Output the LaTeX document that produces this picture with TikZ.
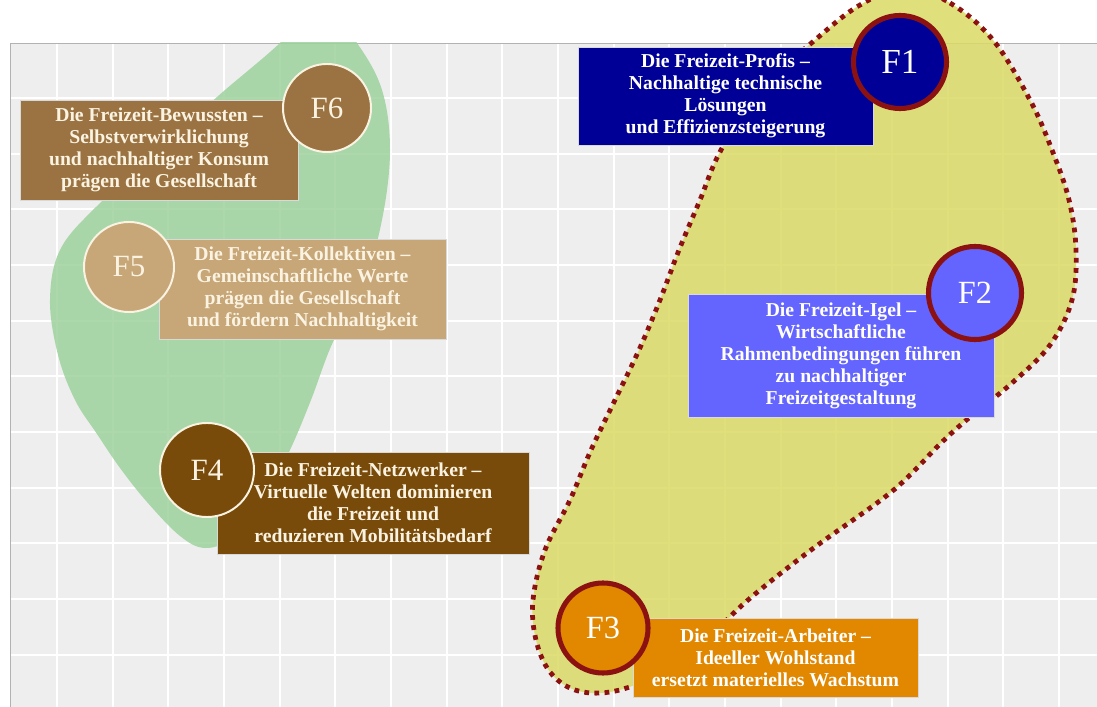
\documentclass[tikz,border=0pt]{standalone}
\usepackage{fontspec}
\setmainfont{Liberation Serif}
\usepackage{tikz}
\usetikzlibrary{positioning, calc}
\usetikzlibrary{shapes.misc}

\definecolor{panelgray}{RGB}{238,238,238}
\definecolor{blobgreen}{RGB}{158,210,158}
\definecolor{blobyellow}{RGB}{218,218,102}
\definecolor{dotred}{RGB}{140,18,18}
\definecolor{cream}{RGB}{250,243,226}
\definecolor{fsechs}{RGB}{155,115,66}
\definecolor{ffuenf}{RGB}{199,166,120}
\definecolor{fvier}{RGB}{121,75,10}
\definecolor{feins}{RGB}{0,0,150}
\definecolor{fzwei}{RGB}{100,100,255}
\definecolor{fdrei}{RGB}{225,135,0}

\begin{document}
\begin{tikzpicture}[x=0.025cm, y=-0.025cm,
    gridline/.style={white, line width=1.4pt},
    textbox/.style={rectangle, draw=white!85!black, line width=0.5pt, align=center, inner sep=0pt,
        font=\bfseries\fontsize{14}{15.6}\selectfont},
    brownring/.style={circle, draw=cream, line width=1.4pt, text=cream, inner sep=0pt,
        font=\fontsize{22}{24}\selectfont},
    redring/.style={circle, draw=dotred, line width=3.6pt, text=white, inner sep=0pt,
        font=\fontsize{23}{25}\selectfont}]
    \useasboundingbox (0,0) rectangle (1097,707);
    \clip (0,0) rectangle (1097,707);
    \fill[white] (0,0) rectangle (1097,707);
    \fill[panelgray] (10,43) rectangle (1097,707);
    \foreach \i in {0,...,18}
        \draw[gridline] ({57+55.67*\i},43) -- ({57+55.67*\i},707);
    \foreach \j in {0,...,10}
        \draw[gridline] (10,{98+55.67*\j}) -- (1097,{98+55.67*\j});
    \draw[black!30, line width=0.6pt] (1097,43) -- (10,43) -- (10,707);

    \begin{scope}
        \clip (10,43) rectangle (1097,707);
        \fill[blobgreen, fill opacity=0.85] plot[smooth cycle, tension=0.6] coordinates {
            (320,0) (357,43) (382,90) (390,150) (382,220) (362,290) (333,342) (311,400)
            (290,450) (262,505) (232,538) (205,548) (180,536) (147,502) (120,468) (97,434)
            (75,400) (58,355) (50,300) (60,250) (96,207) (160,150) (217,97) (280,43)};
    \end{scope}
    \draw[dotred, fill=blobyellow, fill opacity=0.85, line width=3.4pt, dash pattern=on 3.4pt off 3.8pt]
        plot[smooth cycle, tension=0.6] coordinates {
            (905,-12) (950,3) (993,40) (1030,100) (1052,150) (1069,200) (1076,250) (1072,300)
            (1050,345) (1012,383) (970,417) (941,443) (910,475) (881,500) (811,550) (748,600)
            (700,645) (650,678) (610,692) (575,690) (550,672) (536,640) (533,600) (545,550)
            (570,500) (591,450) (615,400) (639,350) (660,300) (679,250) (700,200) (721,150)
            (760,90) (815,40) (860,5)};

    \node[textbox, fill=fsechs, text=cream, minimum width=6.95cm, minimum height=2.5cm] (f6box) at (159,150)
        {Die Freizeit-Bewussten --\\Selbstverwirklichung\\und nachhaltiger Konsum\\prägen die Gesellschaft};
    \node[brownring, fill=fsechs, minimum size=2.2cm] (f6) at (327,108) {F6};

    \node[textbox, fill=ffuenf, text=cream, minimum width=7.175cm, minimum height=2.5cm] (f5box) at (302.5,289)
        {Die Freizeit-Kollektiven --\\Gemeinschaftliche Werte\\prägen die Gesellschaft\\und fördern Nachhaltigkeit};
    \node[brownring, fill=ffuenf, minimum size=2.25cm] (f5) at (129,267) {F5};

    \node[textbox, fill=fvier, text=cream, minimum width=7.8cm, minimum height=2.55cm] (f4box) at (373,503)
        {Die Freizeit-Netzwerker --\\Virtuelle Welten dominieren\\die Freizeit und\\reduzieren Mobilitätsbedarf};
    \node[brownring, fill=fvier, minimum size=2.35cm] (f4) at (207,470) {F4};

    \node[textbox, fill=feins, text=white, minimum width=7.375cm, minimum height=2.45cm] (f1box) at (725.5,96)
        {Die Freizeit-Profis --\\Nachhaltige technische\\Lösungen\\und Effizienzsteigerung};
    \node[redring, fill=feins, minimum size=2.325cm, font=\fontsize{25}{27}\selectfont] (f1) at (900,62) {F1};

    \node[textbox, fill=fzwei, text=white, minimum width=7.65cm, minimum height=3.075cm] (f2box) at (841,355.5)
        {Die Freizeit-Igel --\\Wirtschaftliche\\Rahmenbedingungen führen\\zu nachhaltiger\\Freizeitgestaltung};
    \node[redring, fill=fzwei, minimum size=2.325cm] (f2) at (975,293) {F2};

    \node[textbox, fill=fdrei, text=white, minimum width=7.125cm, minimum height=1.975cm] (f3box) at (775.5,657.5)
        {Die Freizeit-Arbeiter --\\Ideeller Wohlstand\\ersetzt materielles Wachstum};
    \node[redring, fill=fdrei, minimum size=2.25cm] (f3) at (603,628) {F3};
\end{tikzpicture}
\end{document}
